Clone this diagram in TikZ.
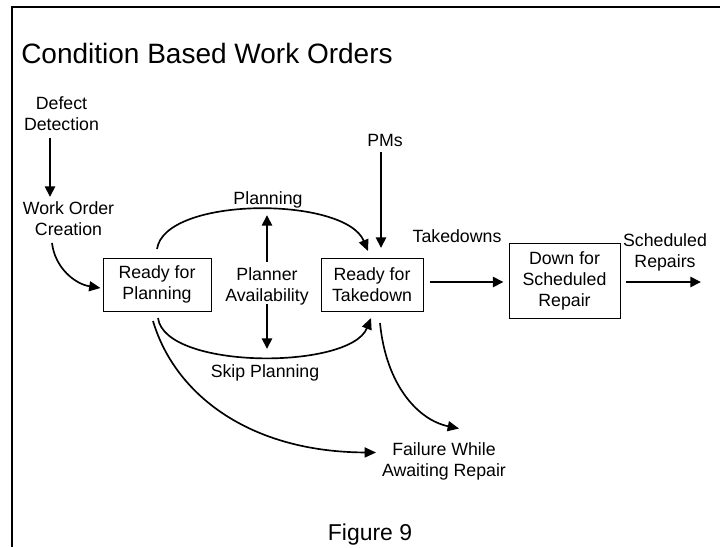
\documentclass[tikz,border=0pt]{standalone}
\usepackage{fontspec}
\setmainfont{Liberation Sans}
\usetikzlibrary{arrows.meta,calc}

\begin{document}
\begin{tikzpicture}[x=0.75pt,y=-0.75pt,
  lbl/.style={font=\fontsize{13.3}{15.75}\selectfont, align=center, inner sep=0pt},
  statebox/.style={lbl, draw, line width=0.75pt, minimum height=39.75pt},
  flow/.style={line width=2pt, -{Triangle[length=8pt,width=7.5pt]}},
  curvearrow/.style={line width=1.25pt, -{Triangle[length=8.5pt,width=7.5pt]}}]

  % page extent and frame
  \useasboundingbox (0,0) rectangle (720,547);
  \draw[line width=2pt] (12,547) -- (12,7) -- (720,7);

  % title and caption
  \node[anchor=base west, inner sep=0pt, font=\fontsize{21}{25}\selectfont] (title) at (21,63) {Condition Based Work Orders};
  \node[anchor=base, inner sep=0pt, font=\fontsize{17.2}{20}\selectfont] (fig) at (370,540) {Figure 9};

  % labels
  \node[lbl] (dd) at (61.5,114) {Defect\\Detection};
  \node[lbl] (wo) at (68.5,219) {Work Order\\Creation};
  \node[lbl] (plan) at (268,200) {Planning};
  \node[lbl] (pa) at (267,286.5) {Planner\\Availability};
  \node[lbl] (pms) at (385,140) {PMs};
  \node[lbl] (tdl) at (457,236.5) {Takedowns};
  \node[lbl] (srl) at (665,252.5) {Scheduled\\Repairs};
  \node[lbl] (skip) at (265,372.5) {Skip Planning};
  \node[lbl] (fail) at (444,461) {Failure While\\Awaiting Repair};

  % state boxes
  \node[statebox, minimum width=81pt] (rfp) at (157,284.5) {Ready for\\Planning};
  \node[statebox, minimum width=76.5pt] (rft) at (372,284.5) {Ready for\\Takedown};
  \node[statebox, minimum width=83.25pt, minimum height=56.25pt] (dsr) at (564.5,280.5) {Down for\\Scheduled\\Repair};
  \coordinate (out) at (701,282);

  % straight flows
  \draw[flow] ($(dd)+(-11.5,24)$) -- ($(wo)+(-18.5,-22)$);
  \draw[flow] ($(pms)+(-4,12)$) -- ($(rft)+(9,-36.5)$);
  \draw[flow] ($(pa)+(0,-24.5)$) -- ($(plan)+(-1,15)$);
  \draw[flow] ($(pa)+(0,17.5)$) -- ($(skip)+(2,-23.5)$);
  \draw[flow] ($(rft.east)+(6,-2.5)$) -- ($(dsr.west)+(-5,1.5)$);
  \draw[flow] ($(dsr.east)+(5,1.5)$) -- (out);

  % curved flows
  \draw[curvearrow] ($(wo)+(-16.5,24)$) .. controls (55,268) and (75,284) .. ($(rfp.west)+(-2,3.5)$);
  \draw[curvearrow] ($(rfp)+(0,-35.5)$) .. controls (165,196) and (345,196) .. ($(rft)+(-4,-33.5)$);
  \draw[curvearrow] ($(rfp)+(1,33.5)$) .. controls (165,370) and (350,370) .. ($(rft)+(-1,33.5)$);
  \draw[curvearrow] ($(rfp)+(-4,36.5)$) .. controls (175,395) and (250,452) .. ($(fail)+(-68,-8.5)$);
  \draw[curvearrow] ($(rft)+(8,38.5)$) .. controls (386,385) and (418,420) .. ($(fail)+(15,-32.5)$);
\end{tikzpicture}
\end{document}
